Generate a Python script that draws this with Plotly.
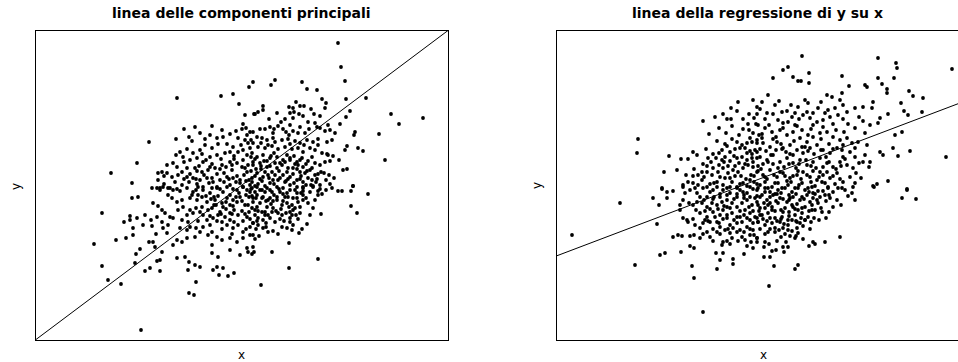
import numpy as np
import plotly.graph_objects as go

# ---- left panel: x / y sample with the principal-component line ----
pc_x = [
    -6.5, -2.1, -0.9, -0.3, 0.7, 1.1, 1.2, -9.3, -10.5, -13.1, -11.0, -5.8, -4.7, -3.0, -6.6, -5.3, -3.2, -2.5, -1.9, -1.2, 0.1, 0.4, 0.0, 0.8, -0.4, 0.3, 0.9, -2.4, -1.5, -0.9, -6.2, -5.5, -4.9, -4.2, -3.7, -3.0,
    -5.9, -5.2, -4.5, -3.9, -3.2, -2.5, -1.7, -1.2, -0.4, 0.1, 0.8,
    -7.5, -6.5, -5.5, -4.7, -4.0, -3.4, -2.7, -2.0, -1.2, -0.5, 0.1, 0.6, 1.1,
    -8.4, -8.0, -7.5, -7.0, -6.4, -5.5, -4.9, -4.2, -3.5, -2.9, -2.2, -1.5, -0.9, -0.2, 0.5, 1.0,
    -8.4, -6.7, -6.0, -4.5, -3.9, -2.5, -1.2, 0.1, 0.8, -9.0, -8.2, -7.4, -6.5,
    9.6, 9.9, 10.3, 10.4, 12.4, 10.8, 10.4, 9.8, 14.9, 15.7, 18.1, 13.7, 14.3, 11.3, 11.2, 10.5, 10.3, 11.6, 12.1, 9.7, 10.1, 10.5, 11.1, 9.2, 8.5, 9.1, 8.3, 8.8, 7.9, 8.2, 7.5, 8.4, 6.9, 7.8,
    3.3, 2.9, 6.0, 6.5, 7.5, 8.0, 8.4, 8.3, 5.4, 2.1, 2.1, 1.6, 1.3, 4.7, 5.1, 5.8, 6.2, 4.8, 5.2, 5.7, 5.1, 6.1, 6.9, 7.8, 3.9, 4.8, 5.8, 7.5, 2.3, 2.8, 3.2, 3.1, 4.1, 4.4, 5.1, 5.6, 6.3, 7.8, 8.3, 8.8, 9.3, 1.1, 1.5, 2.0, 2.5, 3.1, 4.0, 4.6, 5.3, 5.8, 6.5, 7.1, 7.6, 8.5, 9.0,
    1.1, 1.6, 2.3, 3.0, 3.6, 4.3, 5.0, 5.6, 6.1, 6.8, 7.3, 8.0, 8.6,
    1.0, 1.5, 2.1, 2.8, 3.5, 4.1, 4.8, 5.5, 6.0, 6.6, 7.3, 7.8,
    1.1, 1.8, 2.5, 3.0, 3.5, 4.0, 4.5, 5.1, 5.6, 6.1, 5.8, 6.3, 6.8, 7.3,
    1.5, 2.1, 2.6, 3.1, 3.8, 4.3, 4.8, 5.5, 6.1, 6.6,
    1.0, 1.6, 2.3, 2.8, 3.5, 4.1, 4.8, 5.5, 6.1, 7.1,
    -10.1, -14.0, -14.8, -14.0, -13.4, -12.1, -12.6, -11.6, -10.9, -11.2, -11.2, -11.8, -10.5, -10.9, -9.9, -9.7, -11.0, -10.4, -10.2, -10.6, -10.7, -9.7, -9.2, -9.3, -8.9, -8.7, -8.0, -8.5, -8.2, -8.2, -8.6, -7.9, -7.4, -7.5, -9.0, -9.1, -8.5, -8.0, -8.9, -8.4, -8.0, -7.7, -7.2, -6.9, -7.0, -6.5, -6.9, -7.4, -8.2, -8.5, -7.9, -7.2,
    -6.4, -5.9, -5.5, -6.0, -5.4, -4.9, -4.6, -4.2, -3.9, -6.2, -5.5, -5.2, -4.6, -3.9, -4.7, -5.5, -6.0, -6.5, -6.9, -6.5, -5.7, -5.3, -4.7, -4.2, -5.4, -4.6, -5.3, -4.8,
    -3.2, -2.9, -2.4, -2.0, -1.5, -1.2, -0.9, -0.4, 0.1, 0.8, -3.4, -2.5, -3.0, -2.0, -1.2, -0.5, 0.1, 0.8, 0.5, -3.0, -2.4, -1.2, -0.2, 0.6, -2.5, -1.9, -1.4, -0.8, -2.9, -2.3,
    -5.5, -4.9, -4.4, -3.9, -3.2, -2.5, -1.9, -1.2, -0.5, 0.1, 0.8, 1.1, -5.2, -4.5, -3.5, -2.7, -2.0, -1.2, -0.5, 0.3, 1.0, -1.5, -0.2, -3.0, -2.2, -1.2, -0.4, 0.5, 1.1,
    1.9, 4.7, 7.6, 3.0, 4.7, 1.0, 1.2, 1.1, 1.3, 1.1, 1.7, 2.4, 2.6, 3.1, 4.0, 4.5, 5.0, 5.1, 4.8, 6.5, 7.1, 7.9, 10.9, 11.5, 12.6, 9.6, 10.0, 10.9, 11.1, 8.4, 7.8, 7.6, 7.1, 6.1, 6.1, 6.1, 6.1, 5.6, 5.5,
    4.8, 5.1, 4.3, 3.8, 3.5, 4.0, 4.5, 5.1, 5.3, 4.4, 4.0, 3.6, 4.8, 5.0,
    1.0, 1.5, 2.0, 2.5, 3.0, 1.5, 2.1, 2.8, 1.1, 1.8, 2.5, 3.1, 1.3, 2.0, 2.6, 1.6, 2.1, 1.1, 2.8, 3.3, 2.1, 1.6,
]
pc_y = [
    8.7, 8.9, 9.1, 8.1, 9.8, 10.3, 7.1, 4.3, 2.2, 1.2, 0.2, 5.6, 5.8, 5.9, 4.6, 4.8, 5.0, 4.7, 4.8, 5.1, 6.1, 5.7, 5.6, 5.3, 4.7, 4.5, 4.5, 4.1, 4.1, 3.8, 3.3, 3.6, 3.2, 3.5, 4.0, 3.7,
    2.8, 2.5, 2.7, 2.3, 2.8, 3.0, 3.2, 3.3, 3.3, 3.5, 3.7,
    2.0, 1.8, 1.7, 1.7, 1.3, 1.5, 1.7, 2.0, 2.3, 2.2, 2.5, 2.0, 2.3,
    1.2, 1.3, 1.2, 0.8, 1.0, 0.8, 0.7, 0.5, 0.7, 0.3, 0.5, 0.8, 0.7, 0.5, 1.3, 0.7,
    0.5, 0.3, 0.0, 0.1, -0.2, -0.2, 0.0, -0.2, 0.0, -0.3, -0.3, -0.3, -0.4,
    14.2, 11.8, 10.4, 8.6, 8.7, 7.4, 6.8, 6.1, 7.1, 6.1, 6.7, 5.1, 2.5, 5.3, 5.0, 3.9, 3.5, 3.7, 3.4, 2.5, 1.5, 1.6, -0.1, 0.7, 3.1, 2.9, 2.3, 2.4, 1.3, 1.2, 0.6, 0.5, 0.0, 0.0,
    10.5, 10.0, 10.3, 9.6, 9.5, 8.6, 8.2, 7.7, 8.3, 7.9, 7.5, 7.3, 7.1, 7.8, 7.7, 7.9, 7.9, 7.2, 7.3, 7.1, 6.7, 6.9, 7.6, 6.9, 6.3, 6.0, 5.8, 5.8, 5.6, 5.8, 5.6, 5.2, 5.6, 5.3, 5.4, 5.2, 5.2, 5.7, 5.4, 5.5, 5.2, 5.3, 4.8, 4.7, 4.5, 4.7, 4.5, 4.6, 4.4, 4.2, 4.5, 4.3, 4.0, 4.3, 4.5,
    4.2, 3.8, 3.7, 3.9, 3.6, 3.8, 3.6, 3.7, 3.3, 3.7, 3.5, 3.2, 3.0,
    3.2, 2.8, 3.0, 2.7, 2.8, 2.5, 2.7, 2.3, 2.7, 2.4, 2.2, 2.0,
    2.0, 2.2, 1.8, 1.3, 1.7, 2.0, 1.3, 1.7, 2.0, 1.8, 1.3, 1.2, 1.5, 1.0,
    1.2, 0.8, 1.0, 0.5, 0.7, 0.3, 0.8, 0.5, 0.3, 0.7,
    0.3, 0.1, -0.1, 0.2, -0.2, -0.3, 0.0, -0.2, -0.3, -0.2,
    -14.5, -2.8, -5.9, -8.1, -9.5, -9.9, -5.5, -5.3, -5.0, -3.1, -3.5, -3.7, -3.3, -4.3, -4.0, -3.0, -1.3, -1.2, -6.4, -6.9, -7.8, -8.6, -8.3, -5.7, -5.7, -6.2, -6.7, -7.6, -7.5, -8.6, -4.9, -4.3, -4.0, -4.8, -4.1, -3.5, -3.2, -3.7, -1.8, -2.1, -2.5, -2.8, -3.2, -3.3, -1.3, -1.7, -0.5, -1.0, -0.5, -0.3, -0.2, -0.3,
    -2.5, -2.2, -3.0, -3.5, -3.7, -2.8, -2.3, -2.7, -3.0, -4.3, -4.5, -4.2, -4.3, -4.2, -5.2, -5.3, -5.7, -5.5, -6.0, -7.3, -7.2, -7.7, -8.0, -8.2, -8.5, -9.7, -10.8, -11.0,
    -4.0, -3.3, -3.0, -3.7, -4.0, -3.5, -4.3, -4.0, -4.7, -4.2, -5.0, -5.2, -6.0, -5.5, -5.3, -5.7, -5.3, -5.0, -6.3, -6.8, -7.2, -6.5, -7.0, -6.7, -8.2, -8.3, -9.1, -8.8, -8.5, -9.0,
    -0.3, -0.7, -0.2, -0.5, -0.8, -0.3, -0.7, -1.0, -0.5, -0.2, -0.7, -1.3, -1.3, -1.5, -1.7, -1.5, -1.8, -2.0, -1.7, -2.0, -2.3, -1.3, -1.2, -2.3, -2.7, -2.8, -3.0, -3.2, -3.8,
    -10.0, -8.3, -7.4, -6.7, -5.8, -6.9, -6.7, -6.2, -5.4, -5.0, -5.1, -4.2, -4.7, -4.6, -4.2, -4.3, -4.5, -4.0, -3.7, -3.9, -2.3, -2.9, -2.1, -2.8, -0.9, -0.6, -0.6, -0.6, -0.1, -0.5, -0.4, -1.0, -0.1, -0.2, -0.6, -1.0, -1.5, -1.7, -0.8,
    -0.5, -1.3, -1.2, -0.7, -1.5, -2.0, -1.8, -2.5, -2.3, -2.8, -3.0, -2.8, -3.3, -3.0,
    -0.3, -0.2, -0.5, -0.3, -0.7, -1.0, -1.2, -1.3, -1.7, -1.8, -2.2, -2.3, -2.5, -2.7, -3.0, -3.3, -3.5, -3.8, -3.3, -3.7, -4.3, -4.0,
]
# crowded middle of the left cloud
pc_core_x = [
    -6.6, -4.0, -2.1, -0.8, 0.5, 1.3, 2.5, 3.2, 4.5, 5.2, 7.0,
    -6.9, -5.8, -4.3, -3.0, -1.6, -0.8, 0.3, 1.4, 2.2, 3.3, 4.3, 5.3, 6.4, 7.0,
    -7.8, -6.0, -5.2, -3.8, -2.5, -1.8, -0.5, 0.2, 1.3, 2.3, 3.3, 4.1, 5.1, 5.9, 7.6, 8.7,
    -7.8, -5.3, -3.3, -1.8, -0.6, 0.4, 1.3, 2.0, 3.2, 4.4, 5.2, 6.4, 7.4, 8.8,
    -6.2, -5.0, -3.6, -2.2, -0.9, 0.5, 1.3, 2.3, 3.2, 4.1, 5.3, 6.8, 8.0, 9.0,
    -6.0, -4.0, -3.1, -2.4, -0.9, 0.0, 0.7, 1.4, 2.4, 3.1, 4.1, 5.0, 6.6, 7.3,
    -5.2, -3.4, -2.6, -1.6, -0.8, 0.0, 0.7, 1.6, 2.3, 3.4, 4.7, 5.8, 6.8,
    -4.4, -3.5, -2.5, -1.7, -0.8, 0.1, 0.8, 1.5, 2.4, 3.8, 5.6, 6.0,
    -4.2, -3.0, -2.0, -1.0, 0.4, 1.4, 3.6, 5.7,
    -5.0, -3.7, -0.1, 0.6, 1.9, 2.6, 3.3, 4.8, 6.2, 7.6,
    -4.2, -2.0, -0.6, 0.5, 1.8, 3.6, 4.7, 6.7, 7.3, 8.6,
    0.3, 2.7, 3.5, 4.3, 6.6, 7.2,
    -3.6, -1.0, 0.9, 1.9, 2.9, 3.8, 4.8, 5.8,
    -4.5, -3.2, -2.2, -1.0, 0.0, 0.9, 1.9, 2.8, 3.7, 4.6, 5.5, 6.5,
    -5.8, -4.6, -3.0, -1.3, -0.2, 0.7, 1.8, 2.7, 3.6, 4.6, 5.8, 7.0,
    -4.6, -3.0, -1.5, -0.3, 0.9, 1.8, 2.8, 3.7, 4.5, 5.9, 7.6,
    -4.4, -2.8, -1.6, -0.6, 0.4, 1.0, 2.0, 2.6, 3.5, 4.6, 5.5, 6.4,
    -4.0, -2.8, -1.9, -0.9, 0.6, 1.5, 2.9, 3.9, 4.8, 5.8,
    -3.2, -2.1, -1.0, 0.3, 1.3, 2.3, 3.0, 4.2, 5.4,
]
pc_core_y = [
    3.0, 3.1, 2.6, 2.9, 3.0, 2.6, 2.4, 3.2, 3.0, 2.9, 2.8,
    2.2, 2.3, 1.9, 2.1, 1.8, 2.6, 1.7, 1.6, 2.4, 2.2, 2.3, 2.1, 2.1, 1.7,
    0.9, 1.3, 1.1, 1.0, 1.1, 1.2, 0.9, 1.0, 0.9, 1.3, 1.0, 1.0, 1.1, 0.9, 1.1, 1.0,
    0.1, 0.3, 0.2, 0.3, 0.3, 0.4, -0.1, 0.4, 0.1, 0.4, 0.2, 0.0, 0.3, 0.1,
    -0.6, -1.0, -1.1, -0.4, -0.4, -0.5, -0.7, -0.7, -1.0, -0.9, -0.5, -0.7, -0.9, -0.3,
    -1.5, -1.2, -1.4, -1.1, -1.5, -1.6, -1.2, -1.3, -1.6, -1.6, -1.6, -2.0, -1.8, -1.5,
    -2.5, -2.5, -2.0, -2.4, -2.5, -2.6, -2.7, -2.6, -2.7, -2.6, -2.2, -2.8, -3.0,
    -3.6, -3.5, -3.6, -3.2, -3.7, -3.6, -3.4, -3.6, -3.8, -3.4, -3.4, -4.4,
    -4.7, -4.7, -4.4, -4.9, -4.4, -4.4, -4.9, -4.8,
    4.4, 4.6, 4.0, 4.2, 4.2, 4.0, 4.3, 4.1, 4.0, 4.6,
    5.2, 5.5, 5.4, 5.0, 5.6, 5.9, 5.0, 5.6, 6.2, 6.0,
    7.0, 6.6, 7.2, 6.6, 6.3, 7.1,
    2.5, 2.0, 2.8, 1.9, 2.9, 2.2, 2.5, 2.5,
    1.4, 1.8, 1.6, 1.5, 1.8, 1.4, 1.6, 1.9, 1.4, 1.7, 1.6, 1.4,
    0.6, 0.6, 0.7, 0.6, 0.2, 0.5, 0.6, 0.7, 0.5, 0.6, 0.6, 0.5,
    -0.5, -0.3, -0.2, -0.8, -0.4, -0.5, -0.5, -0.4, -0.8, -0.8, -0.6,
    -1.0, -1.2, -1.7, -1.2, -1.0, -1.1, -1.3, -1.5, -1.2, -1.2, -1.3, -1.3,
    -2.2, -2.0, -2.2, -2.1, -2.0, -2.2, -1.9, -2.4, -2.7, -2.2,
    -3.1, -2.9, -2.9, -2.9, -3.0, -3.0, -2.7, -3.6, -3.0,
]

# ---- right panel: x / y sample with the least-squares line of y on x ----
reg_x = [
    -1.0, -2.5, -3.2, -4.0, -3.6, -3.2, -1.4, -0.6, -2.0, -1.5, -0.7, -3.1, -6.0, -12.5, -12.6, -5.4, -1.4, -1.0, -0.4, -2.4, -3.1, -2.6, -2.1, -1.6, -1.1, -0.6,
    -5.7, -4.1, -3.3, -2.8, -2.3, -1.8, -1.3, -0.8, -0.3,
    -9.4, -8.2, -7.5, -7.0, -5.5, -4.7, -4.1, -3.8, -3.3, -2.6, -2.1, -1.6, -1.1, -0.6,
    -9.9, -7.7, -6.9, -6.1, -5.6, -5.0, -4.5, -4.0, -3.5, -3.0, -2.5, -2.0, -1.5, -1.0, -0.5,
    -10.1, -8.0, -7.5, -7.0, -6.1, -5.3, -4.6, -4.0, -3.1, -2.6, -2.0, -1.3, -0.6,
    3.9, 11.5, 13.3, 13.4, 18.9, 2.5, 2.0, 1.0, 3.0, 3.5, 3.8, 4.6, 4.6, 7.9, 11.5, 13.1, 8.6, 10.2, 10.4, 11.9, 12.4, 12.4, 14.6, 15.0, 16.0, 13.8, 14.1, 14.5, 15.9, 14.7, 18.3, 13.5, 13.0, 11.7, 12.0, 12.5, 10.0, 10.6, 10.7, 9.8, 11.4, 11.0, 14.4,
    13.9, 13.2, 12.5, 11.5, 11.7, 10.7, 10.0, 9.2, 8.5,
    11.0, 10.9, 10.0, 9.2, 8.4, 8.0, 7.7, 7.9, 6.9, 6.4, 6.5, 7.2, 7.5,
    5.5, 5.0, 4.5, 4.2, 3.5, 3.2, 2.9, 4.0, 4.7, 5.4, 6.0, 6.7,
    0.5, 1.2, 1.9, 2.4, -0.1, -0.6, 0.4, 1.0, 1.5, 2.5, 3.2, 3.9, 4.5,
    -0.5, 0.2, 0.9, 1.7, 2.4, 3.0, 3.7, 4.4, 5.0, 5.7, 6.4, 7.0, 7.7, 8.4, 8.9, 9.5,
    -0.6, 0.0, 0.7, 1.4, 2.0, 2.7, 3.4, 4.0, 4.7, 5.4, 6.0, 6.7, 7.4, 8.0, 8.7, 9.2,
    -0.3, 0.4, 1.0, 1.7, 2.4, 3.0, 3.7, 4.4, 5.0, 5.7, 6.4, 7.0, 7.7, 8.4, 9.0,
    -0.6, 0.0, 0.7, 1.4, 2.0, 2.7, 3.4, 4.0, 4.7, 5.4, 6.0, 6.7, 7.4, 8.0, 8.7,
    -0.3, 0.5, 1.2, 1.9, 2.5, 3.2, 3.9, 4.5, 5.2, 5.9, 6.5, 7.2, 7.9, 9.2,
    -19.1, -14.3, -12.8, -6.0, -6.9, -7.1, -4.6, -3.0, -3.0, -4.3, -10.3, -9.8, -8.2, -7.3, -6.9, -4.7, -4.0, -1.9, -10.6, -11.0, -10.4, -9.6, -10.1, -9.6, -9.0, -8.5, -8.1, -7.3, -6.9, -8.0, -7.6, -7.5, -8.3, -8.0, -8.3,
    -6.8, -6.3, -6.0, -5.6, -5.3, -6.0, -6.3,
    -4.6, -4.3, -3.8, -3.3, -4.0, -4.1, -3.6, -3.1, -2.6, -2.1, -1.8, -1.3, -1.0, -0.6, -1.6, -1.0,
    -7.0, -6.6, -6.1, -5.6, -5.1, -4.6, -4.1, -3.6, -3.1, -2.6, -2.1, -1.6, -1.1, -0.6, -0.3,
    -6.3, -5.6, -5.0, -4.3, -3.6, -3.1, -2.6, -2.1, -1.6, -1.3, -0.8, -0.5, -4.6, -5.3, -3.3, -2.6, -1.6, -1.0, -0.3,
    -8.0, -7.3, -6.6, -6.0, -5.3, -4.6, -4.0, -3.3, -2.6, -2.0, -1.3, -0.6, -0.1, -5.6, -4.3, -2.6, -1.3,
    0.6, 3.2, 3.5, 1.1, 0.1, 0.7, 0.9, 1.3, 2.1, 2.0, 2.5, 0.1, 0.2, 5.0, 5.2, 6.2, 7.7, 1.8, 2.7, 3.3, 3.2, -0.6, -0.6, 0.5, 1.2, 2.0, 2.5, 3.4, 3.7, 4.2, 5.1, 6.3, 5.9, 5.2, 13.9, 14.4, 15.3, 11.1, 9.0, 8.9, 9.2, 7.8, 7.0, 7.4, 6.7, 6.2, 6.5, 7.5, 8.2,
    -0.5, 0.2, 0.9, 1.5, 2.2, 2.9, 3.5, 4.2, 4.9, 5.5, -0.3, 0.4, 1.0, 1.7, 2.4, 3.0, 3.7, 4.4, 5.0, 5.7,
    -0.5, 0.2, 0.9, 1.5, 2.2, 2.9, 3.5, 4.2, 4.9, 5.5, -0.1, 0.5, 1.2, 1.9, 2.5, 3.2, 3.9, 4.5, -0.5, 0.2, 0.9, 1.7, 2.5, 3.4,
]
reg_y = [
    8.5, 8.3, 7.7, 7.1, 6.6, 6.6, 7.1, 7.1, 6.6, 6.1, 6.1, 5.9, 6.4, 4.6, 3.2, 5.1, 5.5, 5.2, 5.0, 5.0, 4.6, 4.3, 4.0, 4.2, 4.3, 4.2,
    3.6, 3.5, 3.3, 3.6, 3.7, 3.7, 3.4, 3.5, 3.6,
    2.9, 2.6, 2.6, 3.3, 2.7, 2.7, 2.5, 2.8, 2.4, 2.7, 2.8, 2.5, 2.7, 2.7,
    1.3, 1.0, 1.6, 1.3, 1.3, 1.7, 1.3, 1.7, 1.2, 1.5, 1.3, 1.7, 2.0, 1.8, 1.4,
    -0.3, 0.0, 0.3, 0.2, 0.5, 0.1, 0.3, 0.0, 0.3, -0.2, 0.2, 0.5, 0.1,
    12.9, 12.7, 12.2, 11.7, 11.6, 11.8, 11.5, 10.7, 10.8, 10.4, 10.4, 11.2, 10.2, 10.9, 10.7, 10.7, 9.9, 10.0, 9.8, 10.1, 9.6, 9.2, 9.4, 8.9, 8.7, 8.2, 7.4, 7.0, 7.3, 3.4, 2.8, 2.9, 3.7, 3.3, 3.0, 0.4, 2.3, 1.8, 2.3, 0.7, 0.1, -0.1, -0.4,
    5.3, 5.0, 7.1, 6.2, 6.7, 6.0, 6.4, 5.7, 6.1,
    8.3, 7.7, 7.8, 7.7, 7.3, 8.0, 8.5, 9.2, 8.8, 9.0, 7.5, 7.7, 7.0,
    7.7, 7.2, 8.2, 8.5, 7.8, 7.2, 6.8, 7.0, 6.7, 6.3, 6.5, 6.8,
    9.0, 8.0, 7.3, 7.4, 8.3, 7.8, 7.2, 7.1, 6.5, 6.3, 6.0, 5.5, 5.0,
    6.0, 5.7, 5.3, 5.5, 5.0, 5.3, 4.7, 4.3, 4.8, 5.2, 5.3, 4.8, 4.5, 4.7, 4.2, 4.3,
    4.5, 4.2, 3.8, 4.3, 3.7, 4.0, 3.5, 3.2, 3.7, 4.0, 3.5, 3.2, 3.7, 4.0, 3.3, 2.8,
    2.8, 2.5, 3.0, 2.3, 2.7, 2.2, 2.5, 2.0, 2.3, 2.7, 2.2, 1.8, 2.3, 2.0, 1.7,
    1.3, 1.0, 1.5, 0.8, 1.2, 0.7, 1.0, 1.3, 0.8, 0.5, 1.0, 0.7, 1.2, 0.3, 0.8,
    0.0, -0.3, 0.2, -0.3, 0.0, -0.3, 0.2, -0.3, -0.1, 0.3, -0.2, 0.1, -0.3, 0.2,
    -5.0, -1.8, -8.0, -12.7, -9.3, -8.1, -8.4, -7.9, -7.4, -7.5, -7.0, -6.8, -6.7, -6.1, -6.3, -6.8, -6.8, -6.9, -3.9, -1.3, -2.0, -1.3, -0.4, -0.7, -5.2, -5.0, -5.1, -5.1, -5.0, -3.3, -3.5, -3.7, -2.0, -1.5, -2.5,
    -4.0, -4.3, -3.8, -4.7, -5.2, -4.9, -5.3,
    -4.7, -4.2, -4.5, -4.8, -5.7, -6.0, -5.6, -5.3, -4.7, -5.2, -5.5, -5.0, -4.5, -5.3, -6.1, -6.3,
    -2.0, -1.7, -1.8, -2.2, -1.8, -2.0, -1.7, -1.5, -1.8, -2.2, -1.8, -1.5, -2.0, -1.7, -2.3,
    -2.8, -3.2, -2.7, -3.0, -3.3, -2.8, -3.2, -3.7, -3.3, -2.8, -3.2, -3.7, -3.7, -3.7, -4.0, -3.8, -4.2, -3.8, -3.0,
    -0.2, -0.5, -0.8, -0.3, -0.7, -0.2, -0.5, -0.8, -0.3, -0.7, -0.2, -0.5, -1.0, -1.2, -1.2, -1.2, -1.2,
    -10.1, -8.4, -8.0, -8.1, -7.2, -7.2, -6.6, -6.5, -6.7, -6.2, -6.2, -6.2, -5.7, -5.7, -5.9, -5.7, -5.2, -5.2, -5.1, -5.1, -5.3, -5.3, -5.7, -4.7, -4.3, -4.3, -4.5, -4.3, -3.8, -3.5, -3.3, -3.3, -2.7, -2.5, -1.3, -0.5, -1.4, -0.2, -0.2, -0.8, -1.5, -2.0, -2.2, -1.5, -1.3, -1.0, -0.3, -0.3, -0.5,
    -0.3, -0.7, -0.2, -0.5, -0.3, -0.7, -0.3, -0.5, -0.2, -0.6, -1.2, -1.5, -1.0, -1.3, -1.7, -1.2, -1.5, -1.0, -1.3, -1.2,
    -2.0, -2.3, -2.2, -1.8, -2.3, -2.0, -2.5, -2.2, -2.0, -1.8, -3.0, -2.8, -3.3, -3.2, -3.5, -3.0, -2.8, -3.2, -3.7, -4.0, -3.8, -3.7, -4.0, -3.7,
]
# crowded middle of the right cloud
reg_core_x = [
    -0.3, 1.6, 2.8, 5.8, 6.2,
    -4.8, -2.6, -0.9, 0.2, 2.0, 3.6, 4.4, 5.0, 7.0, 8.0, 9.6,
    -4.4, -3.7, -2.0, -0.1, 0.6, 1.3, 2.0, 3.4, 4.8, 6.0, 7.3, 8.1, 10.2,
    -4.6, -3.8, -1.3, -0.1, 1.0, 1.8, 3.1, 4.2, 5.8, 6.6, 7.9, 9.2, 10.4,
    -6.6, -5.0, -3.6, -1.6, -0.6, 0.3, 1.3, 2.3, 3.0, 3.9, 5.1, 6.3, 7.0, 8.0, 10.2,
    -6.0, -5.2, -4.4, -3.5, -2.4, -1.0, 0.0, 1.0, 2.1, 3.3, 4.3, 5.3, 6.0, 7.3, 8.2, 9.6,
    -8.6, -7.0, -5.9, -4.3, -3.3, -2.2, -1.2, -0.2, 0.4, 1.7, 2.4, 3.0, 3.8, 5.0, 5.7, 6.4, 7.7, 9.3,
    -9.0, -7.8, -6.8, -5.0, -4.3, -3.6, -2.3, -1.6, -1.0, 0.2, 0.7, 1.2, 1.8, 2.6, 3.3, 4.6, 5.2, 6.0, 7.0, 8.5,
    -7.4, -5.9, -4.9, -3.9, -2.9, -1.9, -0.8, 0.1, 0.7, 1.3, 2.0, 2.7, 3.4, 4.1, 4.7, 5.4, 6.3,
    -6.7, -5.3, -4.0, -3.3, -1.8, -1.0, 0.5, 1.2, 1.8, 2.6, 3.2, 4.6, 5.8, 6.6,
    -7.0, -5.8, -4.8, -4.0, -2.9, -1.9, -1.3, 0.0, 0.7, 1.4, 2.1, 2.9, 3.8, 4.8, 5.6,
    -5.0, -3.0, -2.3, -1.3, -0.3, 0.7, 1.6, 2.9, 4.0, 4.7,
    -5.0, -3.3, -2.5, -1.2, 0.6, 1.4, 2.3, 4.0, 4.6,
    -4.4, -2.9, -1.1, 0.8, 1.9, 2.7, 4.5, 5.8,
    -5.6, -3.9, -2.8, -1.8, -0.5, 0.5, 1.5, 2.6, 3.6, 4.8, 6.6, 7.8,
    -6.5, -5.1, -3.8, -2.8, -1.7, -0.9, 0.2, 1.1, 2.2, 3.5, 4.4, 5.6, 7.0,
    -6.5, -5.6, -4.9, -3.3, -2.3, -1.6, -0.9, 0.2, 1.5, 2.8, 3.6, 4.8, 6.2,
    -6.3, -5.0, -3.6, -2.6, -1.9, -0.6, 0.7, 1.4, 2.6, 3.9, 5.0, 6.6,
    -5.8, -4.5, -3.6, -2.3, -1.4, -0.4, 0.9, 2.0, 3.0, 3.9, 4.9,
    -5.5, -4.4, -3.6, -2.3, -0.6, 0.4, 1.8, 2.6, 3.3, 4.2,
    -4.3, -3.5, -1.9, -0.9, 0.2, 1.2, 2.2, 3.5,
]
reg_core_y = [
    7.6, 8.4, 8.0, 8.3, 7.2,
    6.8, 7.4, 6.7, 6.6, 6.2, 6.6, 7.3, 6.0, 6.1, 6.6, 6.8,
    5.7, 5.2, 5.6, 5.1, 6.0, 4.8, 5.7, 5.9, 5.6, 5.8, 5.5, 5.3, 5.2,
    4.4, 4.1, 4.7, 4.7, 4.6, 4.1, 4.4, 3.8, 4.6, 4.1, 3.5, 3.7, 4.0,
    3.0, 3.1, 3.9, 3.2, 3.3, 3.4, 3.5, 3.3, 3.0, 3.8, 3.1, 2.8, 3.6, 2.8, 3.0,
    2.1, 2.3, 2.0, 1.9, 2.2, 2.3, 2.1, 2.1, 1.8, 1.7, 2.5, 1.7, 1.8, 1.6, 2.6, 2.2,
    1.5, 0.9, 0.8, 0.8, 0.7, 0.9, 1.0, 1.6, 0.6, 1.3, 0.4, 0.9, 0.6, 1.4, 1.3, 1.3, 0.6, 1.2,
    -0.6, -0.8, -0.3, -0.5, -0.9, -0.3, -0.5, -0.8, -0.4, -0.3, -0.7, -0.9, -0.8, -1.0, -0.9, -0.7, -0.9, -0.6, -0.7, -1.1,
    -1.8, -1.5, -1.2, -2.1, -1.4, -1.3, -1.3, -1.8, -1.8, -1.6, -1.4, -1.3, -1.9, -1.4, -1.7, -1.5, -1.6,
    -2.5, -2.4, -2.5, -2.3, -2.5, -2.6, -2.0, -2.6, -2.5, -2.7, -2.4, -2.6, -2.3, -2.7,
    -3.4, -3.5, -3.2, -3.4, -3.5, -3.0, -3.5, -3.4, -3.3, -3.6, -3.9, -3.5, -3.3, -3.7, -3.5,
    -4.4, -4.3, -4.5, -4.4, -4.4, -4.4, -4.5, -4.6, -4.1, -4.4,
    -5.6, -5.9, -5.6, -5.7, -5.9, -5.6, -5.7, -5.4, -6.1,
    3.2, 2.9, 3.1, 3.0, 3.6, 3.1, 3.4, 3.5,
    1.9, 2.3, 1.9, 2.1, 1.9, 2.3, 1.7, 2.1, 2.1, 1.9, 2.3, 1.9,
    1.0, 1.0, 0.7, 0.9, 0.6, 0.9, 0.8, 1.0, 0.9, 1.4, 1.0, 0.8, 0.9,
    0.0, -0.2, 0.2, -0.2, 0.1, -0.1, 0.3, 0.3, 0.2, 0.3, 0.0, 0.3, 0.2,
    -1.2, -1.4, -1.0, -0.9, -1.0, -1.1, -1.2, -0.9, -1.5, -1.2, -0.8, -1.0,
    -2.6, -2.4, -2.2, -2.6, -2.2, -2.6, -2.5, -2.7, -2.2, -2.3, -2.5,
    -3.6, -3.8, -3.0, -3.2, -3.3, -3.6, -3.4, -3.1, -3.6, -3.5,
    -4.9, -4.4, -4.7, -5.0, -4.9, -4.7, -4.9, -4.8,
]

# fitted lines
pc_slope, pc_intercept = 0.75, 0.0
reg_slope, reg_intercept = 0.379, 0.735

panel_titles = ["linea delle componenti principali", "linea della regressione di y su x"]
axis_x_label, axis_y_label = "x", "y"

# axis limits (data units)
left_xrange = [-20.6, 20.6]
right_xrange = [-20.6, 19.5]
yrange = [-15.5, 15.4]

W, H = 958, 362


def px(v):
    return v / W


def py(v):
    return 1 - v / H


fig = go.Figure()
dot = dict(size=3.8, color="black", line=dict(width=0))

fig.add_trace(go.Scatter(x=pc_x + pc_core_x, y=pc_y + pc_core_y, mode="markers", marker=dot,
                         xaxis="x", yaxis="y", hoverinfo="skip"))
lx = np.array(left_xrange)
fig.add_trace(go.Scatter(x=lx, y=pc_slope * lx + pc_intercept, mode="lines",
                         line=dict(color="black", width=1), xaxis="x", yaxis="y",
                         hoverinfo="skip"))

fig.add_trace(go.Scatter(x=reg_x + reg_core_x, y=reg_y + reg_core_y, mode="markers", marker=dot,
                         xaxis="x2", yaxis="y2", hoverinfo="skip"))
rx = np.array(right_xrange)
fig.add_trace(go.Scatter(x=rx, y=reg_slope * rx + reg_intercept, mode="lines",
                         line=dict(color="black", width=1), xaxis="x2", yaxis="y2",
                         hoverinfo="skip"))

bare = dict(showgrid=False, zeroline=False, showticklabels=False, ticks="",
            showline=True, linecolor="black", linewidth=1, fixedrange=True)

ydom = [py(340), py(31)]
fig.update_layout(
    width=W, height=H,
    margin=dict(l=0, r=0, t=0, b=0),
    paper_bgcolor="white", plot_bgcolor="white",
    showlegend=False,
    xaxis=dict(bare, domain=[px(36), px(448)], range=left_xrange, mirror=True, anchor="y"),
    yaxis=dict(bare, domain=ydom, range=yrange, mirror=True, anchor="x"),
    xaxis2=dict(bare, domain=[px(557), 1.0], range=right_xrange, mirror=True, anchor="y2"),
    yaxis2=dict(bare, domain=ydom, range=yrange, mirror=False, anchor="x2"),
)

title_font = dict(family="DejaVu Sans", size=14, color="black")
label_font = dict(family="DejaVu Sans", size=12, color="black")
ann = []
for cx, t in zip([242, 757], panel_titles):
    ann.append(dict(text="<b>" + t + "</b>", x=px(cx), y=py(13), xref="paper", yref="paper",
                    xanchor="center", yanchor="middle", showarrow=False, font=title_font))
for cx in [242, 763]:
    ann.append(dict(text=axis_x_label, x=px(cx), y=py(355), xref="paper", yref="paper",
                    xanchor="center", yanchor="middle", showarrow=False, font=label_font))
for cx in [16, 537]:
    ann.append(dict(text=axis_y_label, x=px(cx), y=py(186), xref="paper", yref="paper",
                    xanchor="center", yanchor="middle", showarrow=False, textangle=-90,
                    font=label_font))
fig.update_layout(annotations=ann)

fig.write_html("out.html")
